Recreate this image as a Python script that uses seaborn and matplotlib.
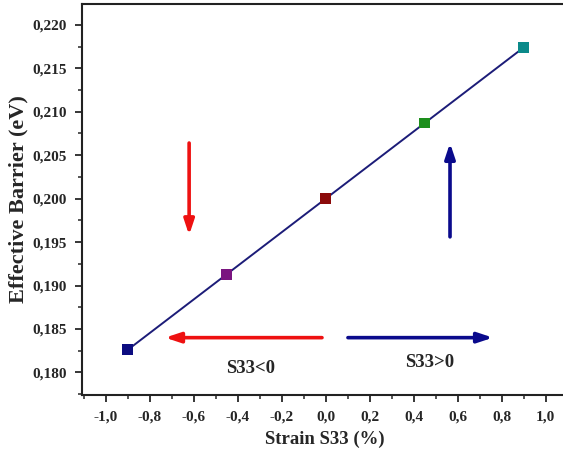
import matplotlib
matplotlib.use("Agg")
import matplotlib.pyplot as plt
import seaborn as sns
import pandas as pd
from matplotlib.ticker import MultipleLocator, FuncFormatter

strain = [-0.9, -0.45, 0.0, 0.45, 0.9]
barrier = [0.1826, 0.1913, 0.2000, 0.2087, 0.2174]
point_colors = ["#0c0c80", "#7a1580", "#8b0a0a", "#1d8f1d", "#0b8a8a"]
xticks = [-1.0, -0.8, -0.6, -0.4, -0.2, 0.0, 0.2, 0.4, 0.6, 0.8, 1.0]
yticks = [0.180, 0.185, 0.190, 0.195, 0.200, 0.205, 0.210, 0.215, 0.220]

df = pd.DataFrame({"strain": strain, "barrier": barrier,
                   "pt": [str(i) for i in range(len(strain))]})

sns.set_style("ticks")
plt.rcParams['font.family'] = ['Liberation Serif', 'DejaVu Serif']
plt.rcParams['font.weight'] = 'bold'

fig = plt.figure(figsize=(5.63, 4.57), dpi=100)
ax = fig.add_axes([82/563, (457-395)/457, (567.7-82)/563, (395-4)/457])

sns.lineplot(data=df, x="strain", y="barrier", color="#1c1c78", lw=1.4, ax=ax, zorder=2)
sns.scatterplot(data=df, x="strain", y="barrier", hue="pt", palette=point_colors,
                marker="s", s=60, edgecolor="none", legend=False, ax=ax, zorder=3)

ax.set_xlim(-1.108, 1.1)
ax.set_ylim(0.1774, 0.2224)
ax.set_xticks(xticks)
ax.set_yticks(yticks)
ax.xaxis.set_minor_locator(MultipleLocator(0.1))
ax.yaxis.set_minor_locator(MultipleLocator(0.0025))
ax.xaxis.set_major_formatter(FuncFormatter(lambda v, p: f"{v:.1f}".replace("-0.0", "0.0").replace(".", ",")))
ax.yaxis.set_major_formatter(FuncFormatter(lambda v, p: f"{v:.3f}".replace(".", ",")))
ax.tick_params(which="major", direction="out", length=5, width=1.3, labelsize=11, pad=6)
ax.tick_params(which="minor", direction="out", length=3, width=1.1)
for lab in ax.get_xticklabels() + ax.get_yticklabels():
    lab.set_fontweight("bold")
for sp in ax.spines.values():
    sp.set_linewidth(1.5)
    sp.set_color("#222222")

ax.set_xlabel("Strain S33 (%)", fontsize=13.5, fontweight="bold", labelpad=5)
ax.set_ylabel("Effective Barrier (eV)", fontsize=16, fontweight="bold", labelpad=3)

red = "#ee1111"
blue = "#0a0a8c"
akw = dict(arrowstyle="-|>,head_length=0.9,head_width=0.3", lw=2.6, shrinkA=0, shrinkB=0)
ax.annotate("", xy=(-0.621, 0.1958), xytext=(-0.621, 0.2064),
            arrowprops=dict(color=red, **akw))
ax.annotate("", xy=(0.565, 0.2064), xytext=(0.565, 0.1956),
            arrowprops=dict(color=blue, **akw))
ax.annotate("", xy=(-0.73, 0.1840), xytext=(-0.017, 0.1840),
            arrowprops=dict(color=red, **akw))
ax.annotate("", xy=(0.76, 0.1840), xytext=(0.101, 0.1840),
            arrowprops=dict(color=blue, **akw))
ax.text(-0.343, 0.1805, "S33<0", ha="center", va="center", fontsize=13.5, fontweight="bold")
ax.text(0.474, 0.1811, "S33>0", ha="center", va="center", fontsize=13.5, fontweight="bold")

fig.savefig("out.png", dpi=100)
